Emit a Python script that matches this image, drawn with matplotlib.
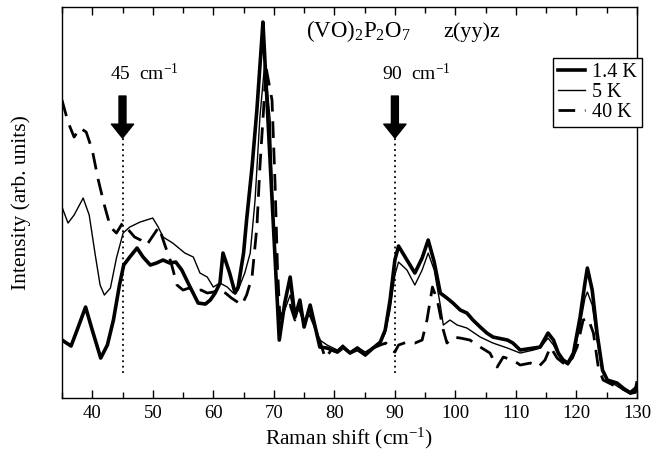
import matplotlib
matplotlib.use("Agg")
import matplotlib.pyplot as plt
from matplotlib.ticker import MultipleLocator

plt.rcParams['font.family'] = ['Liberation Serif', 'DejaVu Serif']
plt.rcParams['mathtext.fontset'] = 'custom'
plt.rcParams['mathtext.rm'] = 'Liberation Serif'
plt.rcParams['mathtext.it'] = 'Liberation Serif:italic'

# Raman spectra, intensity in arbitrary units
x_14K = [35.0, 36.5, 37.5, 38.9, 40.0, 41.4, 42.5, 43.5, 44.5, 45.2, 46.2, 47.4, 48.4, 49.6,
         50.6, 51.7, 52.8, 53.8, 54.8, 56.0, 57.5, 58.7, 59.5, 60.3, 61.1, 61.6, 62.7, 63.6,
         64.1, 65.0, 65.5, 66.4, 67.2, 68.0, 68.2, 69.0, 70.0, 70.9, 71.8, 72.7, 73.5, 74.3,
         75.0, 76.0, 77.6, 78.8, 80.5, 81.4, 82.6, 83.8, 85.1, 86.4, 87.6, 88.4, 89.2, 90.0,
         90.6, 92.0, 93.3, 94.5, 95.5, 96.5, 97.5, 98.6, 99.6, 100.8, 101.9, 102.9, 104.1,
         105.2, 106.2, 108.6, 109.5, 110.7, 112.9, 114.0, 115.3, 116.2, 117.0, 117.8, 118.6,
         119.5, 120.6, 121.4, 121.8, 122.6, 123.4, 124.3, 125.1, 126.7, 127.7, 128.9, 129.7, 130.0]
y_14K = [58, 52, 68, 91, 68, 40, 53, 78, 113, 133, 141, 150, 141, 133,
         135, 138, 135, 136, 128, 113, 95, 94, 98, 105, 115, 145, 125, 105,
         111, 145, 178, 231, 288, 358, 376, 282, 164, 58, 95, 121, 81, 98,
         71, 93, 51, 50, 46, 51, 45, 50, 43, 50, 56, 68, 98, 138,
         152, 138, 125, 140, 158, 136, 105, 100, 95, 88, 85, 78, 71,
         65, 61, 58, 55, 48, 50, 51, 65, 58, 45, 38, 35,
         45, 81, 115, 130, 108, 65, 28, 18, 15, 10, 5, 6, 15]

x_5K = [35.0, 36.0, 37.0, 38.5, 39.5, 40.5, 41.3, 42.0, 43.0, 44.0, 45.1, 46.2, 47.9, 50.0,
        50.9, 51.7, 53.3, 55.3, 56.7, 57.8, 59.0, 60.0, 61.1, 62.3, 63.3, 64.1, 65.2, 66.1,
        66.9, 67.7, 68.5, 69.4, 69.9, 70.5, 71.0, 71.8, 72.7, 73.5, 74.3, 75.0, 76.0, 77.6,
        78.8, 80.5, 81.4, 82.6, 83.8, 85.1, 86.4, 87.6, 88.4, 89.2, 90.0, 90.6, 92.0, 93.3,
        94.5, 95.5, 96.5, 97.5, 98.0, 99.1, 100.3, 101.9, 104.1, 106.2, 108.6, 110.7, 112.9,
        114.0, 115.3, 116.2, 117.0, 117.8, 118.6, 119.5, 120.6, 121.4, 121.8, 122.6, 123.4,
        124.3, 125.1, 126.7, 127.7, 128.9, 129.7, 130.0]
y_5K = [191, 175, 183, 200, 183, 143, 113, 103, 110, 140, 165, 171, 176, 180,
        171, 161, 155, 145, 141, 125, 121, 111, 115, 111, 105, 108, 125, 145,
        198, 281, 335, 278, 178, 98, 78, 88, 103, 80, 93, 76, 88, 58,
        53, 48, 53, 46, 51, 46, 51, 55, 65, 88, 123, 136, 128, 113,
        128, 145, 128, 93, 73, 78, 73, 70, 61, 55, 50, 45, 48,
        50, 60, 53, 43, 36, 33, 41, 73, 100, 106, 93, 58,
        26, 18, 12, 8, 4, 8, 13]

x_40K = [35.0, 36.0, 37.0, 38.0, 39.0, 40.0, 41.0, 42.0, 43.0, 44.0, 45.0, 46.0, 47.0, 48.0,
         49.0, 50.0, 51.0, 52.0, 53.0, 54.0, 55.0, 56.0, 57.0, 58.0, 59.0, 60.0, 61.0, 62.0,
         63.0, 64.0, 64.7, 65.5, 66.4, 67.2, 67.7, 68.3, 68.7, 69.7, 70.2, 70.6, 71.0, 71.8,
         72.7, 73.5, 74.3, 75.2, 76.0, 77.0, 78.5, 79.5, 80.5, 81.5, 82.6, 83.8, 85.1, 86.4,
         87.6, 88.5, 89.5, 90.0, 90.6, 92.0, 93.3, 94.5, 95.3, 96.2, 97.0, 98.0, 98.6, 99.6,
         100.8, 102.4, 104.1, 105.7, 106.9, 107.9, 109.5, 110.7, 112.4, 113.7, 114.8, 115.7,
         116.8, 117.8, 119.0, 120.1, 121.1, 121.9, 122.8, 123.6, 124.4, 126.7, 128.9, 129.9]
y_40K = [298, 276, 261, 270, 266, 248, 218, 193, 171, 165, 175, 168, 161, 158,
         153, 162, 171, 153, 136, 113, 108, 110, 107, 108, 105, 106, 108, 105,
         100, 96, 93, 103, 121, 171, 231, 288, 331, 298, 215, 131, 81, 88,
         93, 78, 88, 73, 83, 68, 40, 48, 46, 50, 45, 48, 43, 50,
         53, 55, 48, 46, 53, 56, 55, 58, 78, 111, 98, 68, 55, 61,
         60, 58, 51, 45, 31, 41, 38, 33, 35, 31, 38, 51,
         40, 35, 36, 51, 78, 80, 65, 31, 18, 11, 6, 11]

marker_positions = [45, 90]
marker_labels = ["45  cm$^{-1}$", "90  cm$^{-1}$"]

fig = plt.figure(figsize=(6.51, 4.57), dpi=100)
ax = fig.add_axes([0.0952, 0.129, 0.8833, 0.8556])

ax.plot(x_14K, y_14K, color='black', lw=2.6, label='1.4 K')
ax.plot(x_5K, y_5K, color='black', lw=1.0, label='5 K')
ax.plot(x_40K, y_40K, color='black', lw=2.0, dashes=(6, 3.5), label='40 K')

for xm, lab in zip(marker_positions, marker_labels):
    ax.vlines(xm, 25, 260, colors='black', linestyles=(0, (1, 2)), lw=1.3)
    ax.annotate('', xy=(xm, 260), xytext=(xm, 302),
                arrowprops=dict(facecolor='black', edgecolor='black',
                                width=5, headwidth=16, headlength=10, shrink=0))
    ax.text(xm - 2.1, 325, lab, fontsize=14, ha='left', va='center')

# sample and scattering geometry
ax.text(75.3, 361, "(VO)$_2$P$_2$O$_7$", fontsize=16.5, ha='left', va='baseline')
ax.text(98.0, 361, "z(yy)z", fontsize=16, ha='left', va='baseline')

ax.set_xlim(35, 130)
ax.set_ylim(0, 391)
ax.xaxis.set_major_locator(MultipleLocator(10))
ax.xaxis.set_minor_locator(MultipleLocator(5))
ax.set_yticks([])
ax.tick_params(axis='x', which='both', direction='in', top=True, bottom=True,
               labelsize=13.5, width=1)
ax.tick_params(axis='x', which='major', length=6, pad=5)
ax.tick_params(axis='x', which='minor', length=4)
for s in ax.spines.values():
    s.set_linewidth(1.0)

ax.set_xlabel("Raman shift (cm$^{-1}$)", fontsize=15.5, labelpad=3)
ax.set_ylabel("Intensity (arb. units)", fontsize=15.5, labelpad=22)

leg = ax.legend(loc='upper right', bbox_to_anchor=(1.008, 0.87), fontsize=14.5,
                frameon=True, fancybox=False, edgecolor='black', framealpha=1,
                handlelength=1.3, handletextpad=0.35, labelspacing=0.05,
                borderpad=0.25, borderaxespad=0)
leg.get_frame().set_linewidth(1.0)
leg.set_clip_on(False)

fig.savefig("out.png", dpi=100)
